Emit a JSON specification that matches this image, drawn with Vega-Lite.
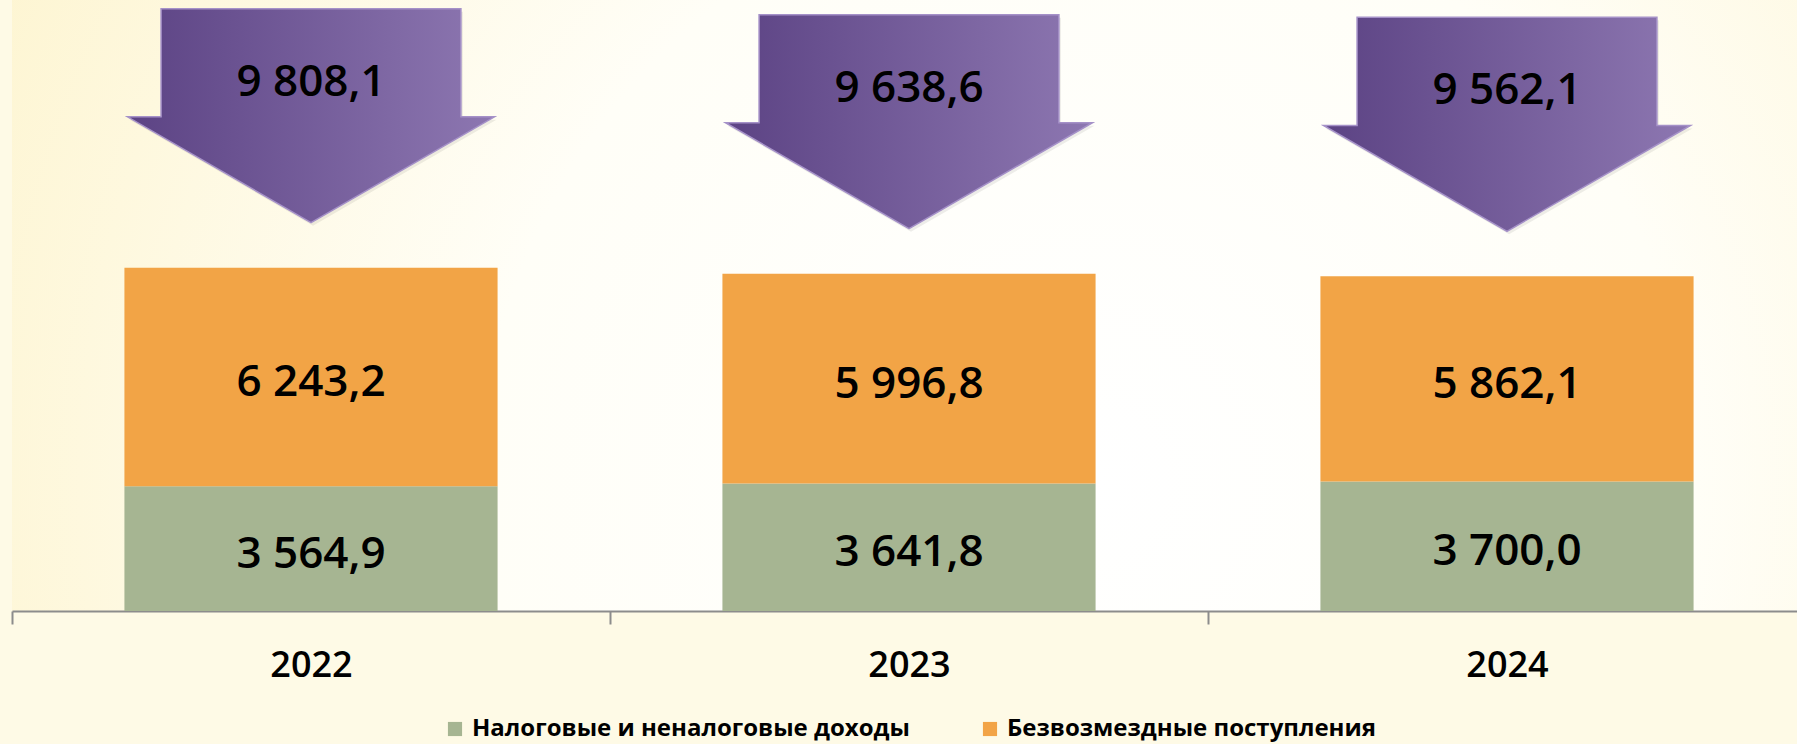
{
  "$schema": "https://vega.github.io/schema/vega-lite/v6.json",
  "width": 1794,
  "height": 611,
  "padding": {"left": 11, "top": 0, "right": 0, "bottom": 14},
  "background": "#FEFAE6",
  "config": {
    "view": {"stroke": null, "fill": {"gradient": "radial", "x1": 0.6, "y1": 0.6, "r1": 0, "x2": 0.6, "y2": 0.6, "r2": 0.75, "stops": [{"offset": 0, "color": "#FFFFFF"}, {"offset": 0.45, "color": "#FFFEF7"}, {"offset": 1, "color": "#FDF3C9"}]}},
    "font": "Open Sans",
    "locale": {"number": {"decimal": ",", "thousands": " ", "grouping": [3], "currency": ["", " ₽"]}},
    "legend": {"layout": {"bottom": {"anchor": "middle"}}}
  },
  "data": {
    "values": [
      {"year": "2022", "category": "Налоговые и неналоговые доходы", "value": 3564.9},
      {"year": "2022", "category": "Безвозмездные поступления", "value": 6243.2},
      {"year": "2023", "category": "Налоговые и неналоговые доходы", "value": 3641.8},
      {"year": "2023", "category": "Безвозмездные поступления", "value": 5996.8},
      {"year": "2024", "category": "Налоговые и неналоговые доходы", "value": 3700.0},
      {"year": "2024", "category": "Безвозмездные поступления", "value": 5862.1}
    ]
  },
  "encoding": {
    "x": {
      "field": "year", "type": "nominal",
      "scale": {"paddingInner": 0, "paddingOuter": 0},
      "axis": {
        "title": null, "labelAngle": 0, "tickBand": "extent",
        "domainColor": "#8C8C8C", "domainWidth": 2,
        "tickColor": "#8C8C8C", "tickWidth": 2, "tickSize": 13,
        "labelFontSize": 36, "labelFontWeight": 600, "labelColor": "#000000",
        "labelPadding": 24
      }
    }
  },
  "layer": [
    {
      "mark": {"type": "bar", "width": {"band": 0.624}},
      "encoding": {
        "y": {"field": "value", "type": "quantitative", "stack": "zero", "scale": {"domain": [0, 17457], "nice": false}, "axis": null},
        "color": {
          "field": "category", "type": "nominal",
          "scale": {"domain": ["Налоговые и неналоговые доходы", "Безвозмездные поступления"], "range": ["#A6B592", "#F2A446"]},
          "legend": {
            "title": null, "orient": "bottom", "direction": "horizontal",
            "symbolType": "square", "symbolSize": 200, "symbolStrokeWidth": 0,
            "labelFontSize": 24, "labelFontWeight": "bold", "labelColor": "#000000", "labelLimit": 0,
            "columnPadding": 68, "labelOffset": 5, "offset": 34
          }
        },
        "order": {"field": "category", "sort": "descending"}
      }
    },
    {
      "transform": [
        {"stack": "value", "groupby": ["year"], "sort": [{"field": "category", "order": "descending"}], "as": ["v0", "v1"]},
        {"calculate": "(datum.v0 + datum.v1) / 2", "as": "mid"}
      ],
      "mark": {"type": "text", "fontSize": 44, "fontWeight": 600, "color": "#000000", "baseline": "middle", "dy": 6},
      "encoding": {
        "y": {"field": "mid", "type": "quantitative"},
        "text": {"field": "value", "type": "quantitative", "format": ",.1f"}
      }
    },
    {
      "transform": [{"aggregate": [{"op": "sum", "field": "value", "as": "total"}], "groupby": ["year"]}],
      "mark": {"type": "point", "filled": true, "shape": "M-0.817,-0.583L0.817,-0.583L0.817,0.006L1,0.006L0,0.583L-1,0.006L-0.817,0.006Z", "size": 134689, "fill": "#000000", "opacity": 0.07, "xOffset": 2, "yOffset": -149},
      "encoding": {"y": {"field": "total", "type": "quantitative"}}
    },
    {
      "transform": [{"aggregate": [{"op": "sum", "field": "value", "as": "total"}], "groupby": ["year"]}],
      "mark": {"type": "point", "filled": true, "shape": "M-0.817,-0.583L0.817,-0.583L0.817,0.006L1,0.006L0,0.583L-1,0.006L-0.817,0.006Z", "size": 134689,
        "fill": {"gradient": "linear", "x1": 0, "y1": 0, "x2": 1, "y2": 0, "stops": [{"offset": 0, "color": "#5C4384"}, {"offset": 1, "color": "#8D77B1"}]},
        "stroke": "#A591C8", "strokeWidth": 1.5, "opacity": 1, "yOffset": -152},
      "encoding": {"y": {"field": "total", "type": "quantitative"}}
    },
    {
      "transform": [{"aggregate": [{"op": "sum", "field": "value", "as": "total"}], "groupby": ["year"]}],
      "mark": {"type": "text", "fontSize": 44, "fontWeight": 600, "color": "#000000", "baseline": "middle", "yOffset": -185},
      "encoding": {
        "y": {"field": "total", "type": "quantitative"},
        "text": {"field": "total", "type": "quantitative", "format": ",.1f"}
      }
    }
  ]
}
